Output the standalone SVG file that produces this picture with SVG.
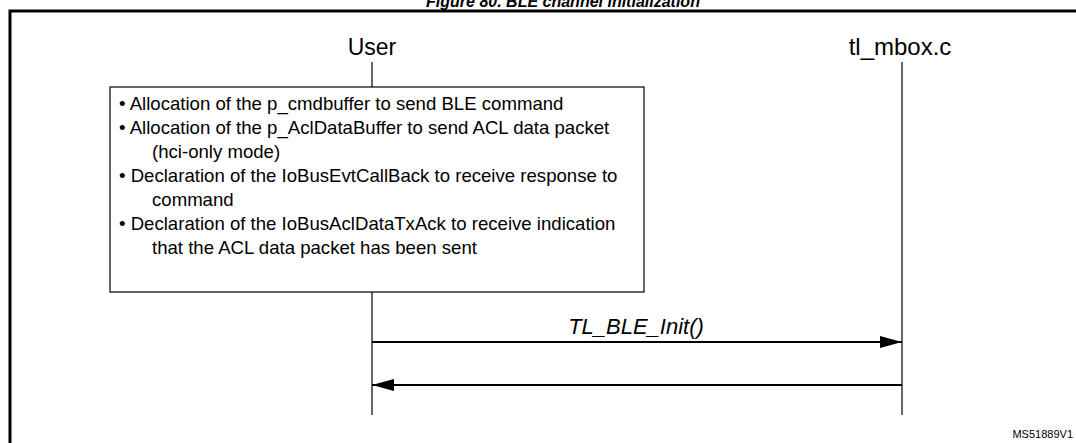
<svg xmlns="http://www.w3.org/2000/svg" width="1076" height="443" viewBox="0 0 1076 443">
<style>
.t{font-family:"Liberation Sans",Arial,sans-serif;fill:#000}
.life{stroke:#000;stroke-width:1.2;fill:none}
.msg{stroke:#000;stroke-width:2;fill:none}
.box{fill:#fff;stroke:#000;stroke-width:1.2}
</style>
<defs>
<marker id="ah" viewBox="0 0 22 12" refX="22" refY="6" markerUnits="userSpaceOnUse" markerWidth="22" markerHeight="12" orient="auto">
<path d="M0,0 L22,6 L0,12 Z" fill="#000"/>
</marker>
</defs>
<rect width="1076" height="443" fill="#fff"/>
<text class="t" x="563" y="7" font-size="16" font-weight="bold" font-style="italic" text-anchor="middle">Figure 80. BLE channel initialization</text>
<path d="M10,450 L10,11 L1090,11" stroke="#000" stroke-width="3" fill="none"/>
<g id="user">
<text class="t" x="372" y="55" font-size="23" text-anchor="middle">User</text>
<line class="life" x1="372" y1="62" x2="372" y2="415"/>
</g>
<g id="tl_mbox">
<text class="t" x="900" y="55" font-size="24" text-anchor="middle">tl_mbox.c</text>
<line class="life" x1="902" y1="62" x2="902" y2="415"/>
</g>
<g id="note">
<rect class="box" x="110" y="87" width="534" height="205"/>
<g class="t" font-size="18.6">
<text x="119" y="110">• Allocation of the p_cmdbuffer to send BLE command</text>
<text x="119" y="134">• Allocation of the p_AclDataBuffer to send ACL data packet</text>
<text x="152" y="158">(hci-only mode)</text>
<text x="119" y="182">• Declaration of the IoBusEvtCallBack to receive response to</text>
<text x="152" y="206">command</text>
<text x="119" y="230">• Declaration of the IoBusAclDataTxAck to receive indication</text>
<text x="152" y="254">that the ACL data packet has been sent</text>
</g>
</g>
<g id="connectors">
<line class="msg" x1="372" y1="342" x2="902" y2="342" marker-end="url(#ah)"/>
<text class="t" x="636" y="334" font-size="22" font-style="italic" text-anchor="middle">TL_BLE_Init()</text>
<line class="msg" x1="902" y1="385" x2="372" y2="385" marker-end="url(#ah)"/>
</g>
<text class="t" x="1073" y="438" font-size="11" text-anchor="end">MS51889V1</text>
</svg>
